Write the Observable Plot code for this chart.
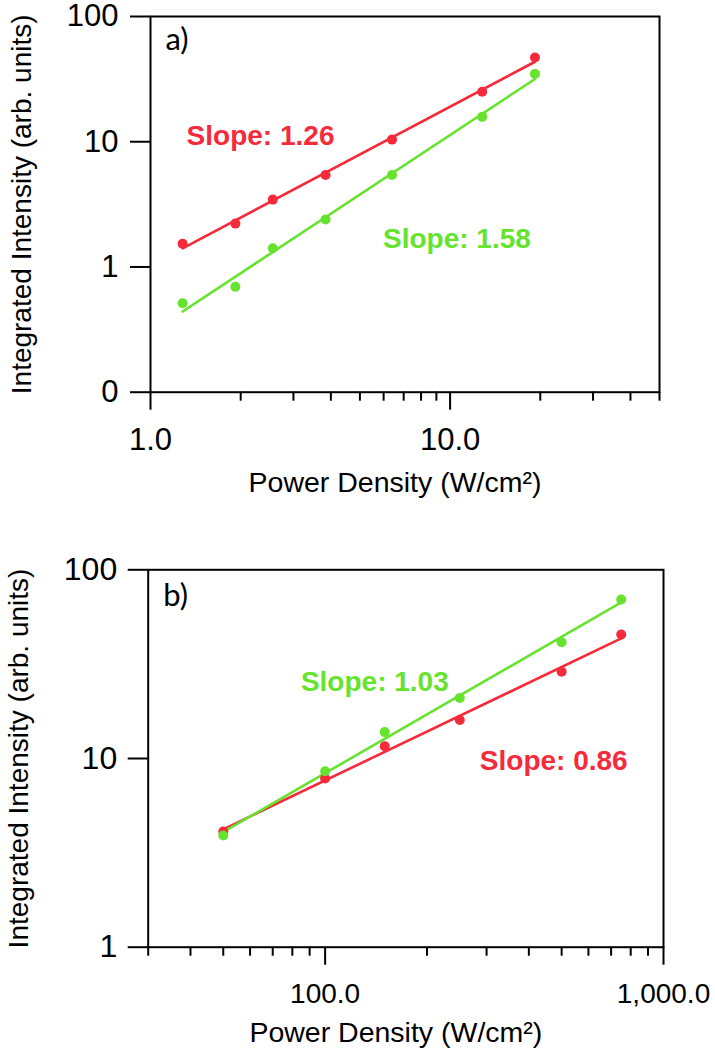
<!DOCTYPE html>
<html><head><meta charset="utf-8">
<script src="https://cdn.jsdelivr.net/npm/d3@7"></script>
<script src="https://cdn.jsdelivr.net/npm/@observablehq/plot@0.6"></script>
<style>
html,body{margin:0;padding:0;background:#fff}
body{width:715px;height:1058px;position:relative;overflow:hidden}
#a,#b{position:absolute;left:0}
#a{top:0}
#b{top:530px}
</style></head>
<body><div id="a"></div><div id="b"></div>
<script>
// ---------- Panel a data ----------
const aPower = [1.28, 1.92, 2.56, 3.84, 6.4, 12.8, 19.2];
const aRed   = [1.53, 2.22, 3.45, 5.42, 10.4, 25.1, 47];
const aGreen = [0.513, 0.696, 1.41, 2.39, 5.42, 15.8, 34.8];
const aYTicks = [0.1, 1, 10, 100];
const aYTickLabels = ["0", "1", "10", "100"];
const aXMajor = [1, 10];
const aXMajorLabels = ["1.0", "10.0"];
const aXMinor = [2, 3, 4, 5, 6, 7, 8, 9, 20, 30, 40, 50];
const aSlopeRed = {text: "Slope: 1.26", x: 1.32, y: 11.07};
const aSlopeGreen = {text: "Slope: 1.58", x: 5.97, y: 1.675};

// ---------- Panel b data ----------
const bPower = [50, 100, 150, 250, 500, 750];
const bRed   = [4.10, 7.83, 11.6, 16.0, 28.8, 45.4];
const bGreen = [3.91, 8.56, 13.8, 20.9, 41.3, 69.6];
const bYTicks = [1, 10, 100];
const bYTickLabels = ["1", "10", "100"];
const bXMajor = [100, 1000];
const bXMajorLabels = ["100.0", "1,000.0"];
const bXMinor = [30, 40, 50, 60, 70, 80, 90, 200, 300, 400, 500, 600, 700, 800, 900];
const bSlopeGreen = {text: "Slope: 1.03", x: 84.8, y: 25.4};
const bSlopeRed = {text: "Slope: 0.86", x: 286.6, y: 9.67};

const xTitle = "Power Density (W/cm²)";
const yTitle = "Integrated Intensity (arb. units)";

const RED = "#f52a3a", GREEN = "#66e32e";
const FONT = "'Liberation Sans', Arial, Helvetica, sans-serif";

// least-squares fit in log-log space
function fitLine(xs, ys) {
  const lx = xs.map(Math.log10), ly = ys.map(Math.log10);
  const mx = d3.mean(lx), my = d3.mean(ly);
  const b = d3.sum(lx, (v, i) => (v - mx) * (ly[i] - my)) / d3.sum(lx, v => (v - mx) ** 2);
  const a = my - b * mx;
  return d3.extent(xs).map(x => ({x, y: 10 ** (a + b * Math.log10(x))}));
}
const pts = (xs, ys) => xs.map((x, i) => ({x, y: ys[i]}));

function panel(o) {
  return Plot.plot({
    width: 715, height: o.height,
    marginTop: o.mt, marginBottom: o.mb, marginLeft: o.ml, marginRight: o.mr,
    x: {type: "log", domain: o.xDomain, label: null},
    y: {type: "log", domain: o.yDomain, label: null},
    style: {fontFamily: FONT, color: "black", background: "white", overflow: "visible"},
    marks: [
      Plot.axisY(o.yTicks, {tickSize: 20, tickPadding: o.yPad, strokeWidth: 2,
        tickFormat: d => o.yTickLabels[o.yTicks.indexOf(d)], fontSize: o.yFont, label: null}),
      Plot.axisX(o.xMinor, {tickSize: 9, tickFormat: () => "", strokeWidth: 2, label: null}),
      Plot.axisX(o.xMajor, {tickSize: 18, tickPadding: 18, strokeWidth: 2,
        tickFormat: d => o.xMajorLabels[o.xMajor.indexOf(d)], fontSize: o.xFont, label: null}),
      Plot.frame({stroke: "black", strokeWidth: 2}),
      Plot.line(fitLine(o.power, o.red), {x: "x", y: "y", stroke: RED, strokeWidth: 2.6}),
      Plot.line(fitLine(o.power, o.green), {x: "x", y: "y", stroke: GREEN, strokeWidth: 2.6}),
      Plot.dot(pts(o.power, o.red), {x: "x", y: "y", r: 5, fill: RED}),
      Plot.dot(pts(o.power, o.green), {x: "x", y: "y", r: 5, fill: GREEN}),
      Plot.text([o.slopeRed], {x: "x", y: "y", text: "text", fill: RED, textAnchor: "start",
        lineAnchor: "middle", fontSize: 28, fontWeight: "bold"}),
      Plot.text([o.slopeGreen], {x: "x", y: "y", text: "text", fill: GREEN, textAnchor: "start",
        lineAnchor: "middle", fontSize: 28, fontWeight: "bold"}),
      Plot.text([o.letter], {frameAnchor: "top-left", dx: 15, dy: o.letterDy, textAnchor: "start",
        lineAnchor: "top", fontSize: 31, fontFamily: "Lato, 'Open Sans', sans-serif"}),
      Plot.text([xTitle], {frameAnchor: "bottom", dx: -10, dy: o.xTitleDy, textAnchor: "middle",
        lineAnchor: "top", fontSize: 28.5}),
      Plot.text([yTitle], {frameAnchor: "left", dx: o.yTitleDx, rotate: -90, textAnchor: "middle",
        lineAnchor: "top", fontSize: 28})
    ]
  });
}

document.getElementById("a").append(panel({
  height: 520, mt: 16, mb: 128.3, ml: 150, mr: 56,
  xDomain: [1, 50], yDomain: [0.1, 100],
  power: aPower, red: aRed, green: aGreen,
  yTicks: aYTicks, yTickLabels: aYTickLabels, yPad: 12, yFont: 31,
  xMajor: aXMajor, xMajorLabels: aXMajorLabels, xMinor: aXMinor, xFont: 31,
  slopeRed: aSlopeRed, slopeGreen: aSlopeGreen,
  letter: "a)", letterDy: 11, xTitleDy: 80, yTitleDx: -139
}));

document.getElementById("b").append(panel({
  height: 528, mt: 39.3, mb: 111.3, ml: 147.7, mr: 52,
  xDomain: [30, 1000], yDomain: [1, 100],
  power: bPower, red: bRed, green: bGreen,
  yTicks: bYTicks, yTickLabels: bYTickLabels, yPad: 11, yFont: 32,
  xMajor: bXMajor, xMajorLabels: bXMajorLabels, xMinor: bXMinor, xFont: 28,
  slopeRed: bSlopeRed, slopeGreen: bSlopeGreen,
  letter: "b)", letterDy: 14, xTitleDy: 75, yTitleDx: -140
}));
</script>
</body></html>
